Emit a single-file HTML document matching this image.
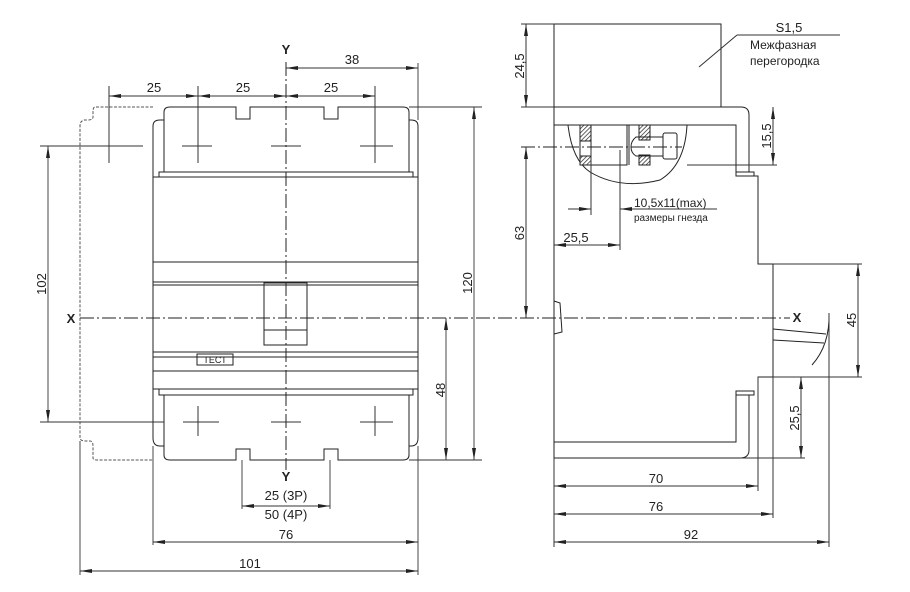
<!DOCTYPE html>
<html><head><meta charset="utf-8"><style>
html,body{margin:0;padding:0;background:#fff;}
svg{display:block;}
text{font-family:"Liberation Sans",sans-serif;font-size:13px;fill:#222;}
</style></head><body>
<svg width="910" height="592" viewBox="0 0 910 592" xmlns="http://www.w3.org/2000/svg">
<defs>
<marker id="a" viewBox="0 0 12 4" refX="12" refY="2" markerWidth="12" markerHeight="4" markerUnits="userSpaceOnUse" orient="auto-start-reverse"><path d="M0,0L12,2L0,4z" fill="#222"/></marker>
<pattern id="h" width="3" height="3" patternUnits="userSpaceOnUse" patternTransform="rotate(45)"><rect width="3" height="3" fill="#fff"/><line x1="0" y1="0" x2="0" y2="3" stroke="#222" stroke-width="1.4"/></pattern>
</defs>
<g fill="none" stroke="#222" stroke-width="1">
<!-- FRONT VIEW -->
<!-- dashed 4P outline -->
<path d="M153,107 L95,107 Q93,107 93,112 L93,117 Q93,120 88,120 L84,120 Q80,121 80,126 L80,438 Q80,441 86,441 L90,441 Q93,441 93,446 L93,458 Q93,460 97,460 L153,460" stroke-dasharray="3,1.5" stroke="#555"/>
<!-- upper terminal cover -->
<path d="M164,172 L164,112 Q164,107 170,107 L236,107 L236,119 L250,119 L250,107 L324,107 L324,119 L338,119 L338,107 L403,107 Q409,107 409,112 L409,172"/>
<path d="M153,177 L153,126 Q153,120 160,120 L164,120"/>
<path d="M418,177 L418,126 Q418,120 411,120 L409,120"/>
<rect x="159" y="172" width="254" height="5"/>
<!-- body -->
<rect x="153" y="177" width="265" height="212"/>
<line x1="153" y1="262" x2="418" y2="262"/>
<line x1="153" y1="282" x2="418" y2="282"/>
<line x1="153" y1="285" x2="418" y2="285"/>
<rect x="264" y="283" width="43" height="62"/>
<line x1="264" y1="330" x2="307" y2="330"/>
<line x1="153" y1="352" x2="418" y2="352"/>
<line x1="153" y1="357" x2="418" y2="357"/>
<rect x="197" y="354" width="36" height="11"/>
<line x1="153" y1="371" x2="418" y2="371"/>
<rect x="159" y="389" width="254" height="6"/>
<!-- lower terminal -->
<path d="M164,395 L164,455 Q164,460 170,460 L236,460 L236,449 L250,449 L250,460 L324,460 L324,449 L338,449 L338,460 L403,460 Q409,460 409,455 L409,395"/>
<path d="M153,389 L153,438 Q153,446 160,446 L164,446"/>
<path d="M418,389 L418,438 Q418,446 411,446 L409,446"/>
<!-- crosses -->
<g stroke="#333">
<line x1="109" y1="86" x2="109" y2="163"/><line x1="40" y1="146" x2="143" y2="146"/>
<line x1="198" y1="86" x2="198" y2="163"/><line x1="182" y1="146" x2="212" y2="146"/>
<line x1="271" y1="146" x2="301" y2="146"/>
<line x1="375" y1="86" x2="375" y2="163"/><line x1="360" y1="146" x2="393" y2="146"/>
<line x1="198" y1="406" x2="198" y2="436"/><line x1="183" y1="422" x2="219" y2="422"/>
<line x1="271" y1="422" x2="301" y2="422"/>
<line x1="375" y1="406" x2="375" y2="436"/><line x1="360" y1="422" x2="393" y2="422"/>
<line x1="40" y1="422" x2="164" y2="422"/>
</g>
<!-- axes -->
<line x1="286" y1="62" x2="286" y2="470" stroke-dasharray="14,3,2,3"/>
<line x1="80" y1="318" x2="790" y2="318" stroke-dasharray="14,3,2,3"/>
<!-- dims front -->
<g stroke="#333" stroke-width="0.9">
<line x1="109" y1="96" x2="198" y2="96" marker-start="url(#a)" marker-end="url(#a)"/>
<line x1="198" y1="96" x2="286" y2="96" marker-start="url(#a)" marker-end="url(#a)"/>
<line x1="286" y1="96" x2="375" y2="96" marker-start="url(#a)" marker-end="url(#a)"/>
<line x1="286" y1="68" x2="418" y2="68" marker-start="url(#a)" marker-end="url(#a)"/>
<line x1="418" y1="63" x2="418" y2="120"/>
<line x1="409" y1="107" x2="482" y2="107"/>
<line x1="409" y1="460" x2="482" y2="460"/>
<line x1="474" y1="107" x2="474" y2="460" marker-start="url(#a)" marker-end="url(#a)"/>
<line x1="446" y1="318" x2="446" y2="460" marker-start="url(#a)" marker-end="url(#a)"/>
<line x1="48" y1="146" x2="48" y2="422" marker-start="url(#a)" marker-end="url(#a)"/>
<line x1="242" y1="460" x2="242" y2="509"/><line x1="330" y1="460" x2="330" y2="509"/>
<line x1="242" y1="506" x2="330" y2="506" marker-start="url(#a)" marker-end="url(#a)"/>
<line x1="153" y1="446" x2="153" y2="545"/><line x1="418" y1="446" x2="418" y2="575"/>
<line x1="153" y1="542" x2="418" y2="542" marker-start="url(#a)" marker-end="url(#a)"/>
<line x1="80" y1="441" x2="80" y2="575"/>
<line x1="80" y1="571" x2="418" y2="571" marker-start="url(#a)" marker-end="url(#a)"/>
</g>
<!-- SIDE VIEW -->
<rect x="554" y="24" width="167" height="83"/>
<line x1="521" y1="24" x2="554" y2="24" stroke="#333"/>
<line x1="521" y1="107" x2="554" y2="107" stroke="#333"/>
<line x1="526" y1="24" x2="526" y2="107" marker-start="url(#a)" marker-end="url(#a)" stroke="#333"/>
<line x1="737" y1="35" x2="840" y2="35" stroke="#333"/>
<line x1="737" y1="35" x2="699" y2="67" stroke="#333"/>
<path d="M554,107 L741,107 Q749,107 749,115 L749,172"/>
<path d="M554,125 L736,125 L736,172"/>
<rect x="736" y="172" width="18" height="4"/>
<path d="M554,107 L554,458"/>
<path d="M754,176 L758,176 L758,264 L773,264 L773,377 L758,377 L758,391"/>
<line x1="773" y1="264" x2="862" y2="264" stroke="#333"/>
<line x1="773" y1="377" x2="862" y2="377" stroke="#333"/>
<line x1="773" y1="377" x2="773" y2="518" stroke="#333"/>
<line x1="758" y1="377" x2="758" y2="491" stroke="#333"/>
<rect x="736" y="391" width="18" height="4"/>
<path d="M736,395 L736,442 L554,442"/>
<path d="M749,395 L749,450 Q749,458 740,458 L554,458"/>
<line x1="740" y1="458" x2="805" y2="458" stroke="#333"/>
<!-- cavity -->
<path d="M568,125 Q572,160 590,172 Q620,190 660,180 Q685,165 687,125"/>
<rect x="580" y="125" width="11" height="16" fill="url(#h)"/>
<rect x="580" y="156" width="11" height="9" fill="url(#h)"/>
<rect x="580" y="125" width="11" height="40"/>
<rect x="591" y="125" width="36" height="40"/>
<line x1="629" y1="125" x2="629" y2="165"/>
<rect x="639" y="125" width="11" height="15" fill="url(#h)"/>
<rect x="639" y="155" width="11" height="10" fill="url(#h)"/>
<path d="M663,137 L636,137 Q631,141 631,147 Q631,153 636,156 L663,156"/>
<rect x="663" y="133" width="14" height="26" rx="2"/>
<line x1="521" y1="147" x2="682" y2="147" stroke-dasharray="14,3,2,3"/>
<line x1="687" y1="165" x2="777" y2="165" stroke="#333"/>
<line x1="773" y1="107" x2="773" y2="165" marker-start="url(#a)" marker-end="url(#a)" stroke="#333"/>
<line x1="526" y1="147" x2="526" y2="318" marker-start="url(#a)" marker-end="url(#a)" stroke="#333"/>
<line x1="591" y1="150" x2="591" y2="215" stroke="#333"/>
<line x1="620" y1="150" x2="620" y2="250" stroke="#333"/>
<line x1="568" y1="209" x2="591" y2="209" marker-end="url(#a)" stroke="#333"/>
<line x1="652" y1="209" x2="620" y2="209" marker-end="url(#a)" stroke="#333"/>
<line x1="632" y1="209" x2="717" y2="209" stroke="#333"/>
<line x1="554" y1="245" x2="620" y2="245" marker-start="url(#a)" marker-end="url(#a)" stroke="#333"/>
<path d="M554,301 L560,303 L562,332 L554,334"/>
<line x1="858" y1="264" x2="858" y2="377" marker-start="url(#a)" marker-end="url(#a)" stroke="#333"/>
<line x1="801" y1="377" x2="801" y2="458" marker-start="url(#a)" marker-end="url(#a)" stroke="#333"/>
<path d="M829,313 Q830,345 812,365"/>
<line x1="773" y1="329" x2="826" y2="334"/>
<line x1="773" y1="340" x2="824" y2="343"/>
<line x1="829" y1="313" x2="829" y2="547" stroke="#333"/>
<line x1="554" y1="486" x2="758" y2="486" marker-start="url(#a)" marker-end="url(#a)" stroke="#333"/>
<line x1="554" y1="514" x2="773" y2="514" marker-start="url(#a)" marker-end="url(#a)" stroke="#333"/>
<line x1="554" y1="458" x2="554" y2="547" stroke="#333"/>
<line x1="554" y1="542" x2="829" y2="542" marker-start="url(#a)" marker-end="url(#a)" stroke="#333"/>
</g>
<g>
<text x="286" y="54" text-anchor="middle" font-weight="bold">Y</text>
<text x="286" y="481" text-anchor="middle" font-weight="bold">Y</text>
<text x="71" y="323" text-anchor="middle" font-weight="bold">X</text>
<text x="797" y="322" text-anchor="middle" font-weight="bold">X</text>
<text x="154" y="92" text-anchor="middle">25</text>
<text x="243" y="92" text-anchor="middle">25</text>
<text x="331" y="92" text-anchor="middle">25</text>
<text x="352" y="64" text-anchor="middle">38</text>
<text transform="translate(472,283) rotate(-90)" text-anchor="middle">120</text>
<text transform="translate(445,390) rotate(-90)" text-anchor="middle">48</text>
<text transform="translate(46,284) rotate(-90)" text-anchor="middle">102</text>
<text x="286" y="500" text-anchor="middle">25 (3P)</text>
<text x="286" y="519" text-anchor="middle">50 (4P)</text>
<text x="286" y="539" text-anchor="middle">76</text>
<text x="250" y="568" text-anchor="middle">101</text>
<text x="215" y="363" text-anchor="middle" style="font-size:9px">ТЕСТ</text>
<text x="789" y="32" text-anchor="middle">S1,5</text>
<text x="750" y="49" style="font-size:12px">Межфазная</text>
<text x="750" y="65" style="font-size:12px">перегородка</text>
<text transform="translate(524,66) rotate(-90)" text-anchor="middle">24,5</text>
<text transform="translate(771,136) rotate(-90)" text-anchor="middle">15,5</text>
<text transform="translate(524,233) rotate(-90)" text-anchor="middle">63</text>
<text x="634" y="207" style="font-size:12px">10,5x11(max)</text>
<text x="634" y="221" style="font-size:10px">размеры гнезда</text>
<text x="576" y="242" text-anchor="middle">25,5</text>
<text transform="translate(856,320) rotate(-90)" text-anchor="middle">45</text>
<text transform="translate(799,418) rotate(-90)" text-anchor="middle">25,5</text>
<text x="656" y="483" text-anchor="middle">70</text>
<text x="656" y="511" text-anchor="middle">76</text>
<text x="691" y="539" text-anchor="middle">92</text>
</g>
</svg>
</body></html>
